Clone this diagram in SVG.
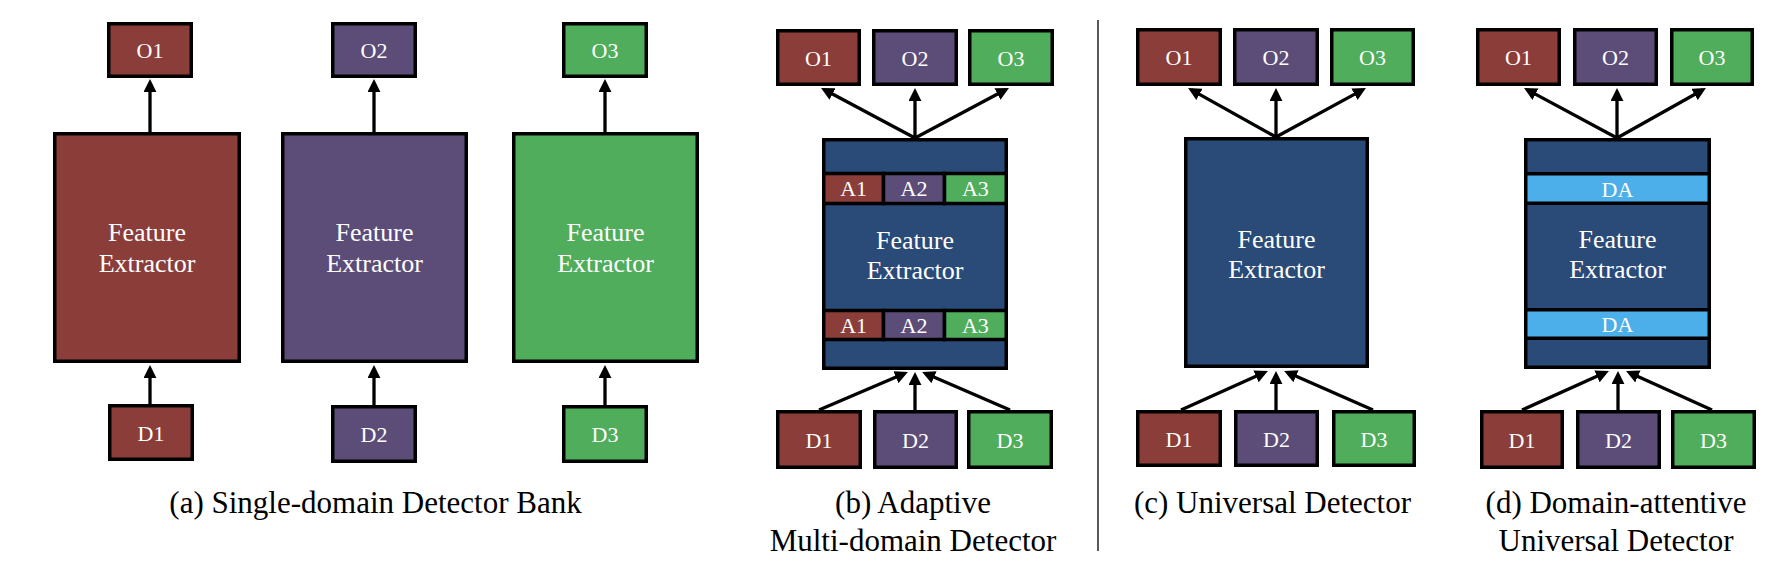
<svg xmlns="http://www.w3.org/2000/svg" width="1786" height="570" viewBox="0 0 1786 570">
<defs>
<marker id="ah" viewBox="0 0 10 10" refX="7" refY="5" markerWidth="13" markerHeight="13" markerUnits="userSpaceOnUse" orient="auto"><path d="M0,0 L10,5 L0,10 z" fill="#000"/></marker>
</defs>
<style>
.r{fill:#8B3D3A}.p{fill:#5C4D78}.g{fill:#50AD5B}.n{fill:#2A4A77}.l{fill:#4DAFEA}
.bx rect{stroke:#000;stroke-width:3.5}
text{font-family:'Liberation Serif','Times New Roman',Times,'DejaVu Serif',serif;text-anchor:middle}
.lbl{font-size:22px;fill:#fff}
.fe{font-size:26px;fill:#fff}
.cap{font-size:31px;fill:#000}
.c line{stroke:#000;stroke-width:3.3;fill:none;marker-end:url(#ah)}
</style>

<g id="connectors" class="c">
<line x1="150" y1="132" x2="150" y2="83"/>
<line x1="150" y1="404" x2="150" y2="369"/>
<line x1="374" y1="132" x2="374" y2="83"/>
<line x1="374" y1="405" x2="374" y2="369"/>
<line x1="605" y1="132" x2="605" y2="83"/>
<line x1="605" y1="405" x2="605" y2="369"/>

<line x1="915" y1="138" x2="824.5" y2="89.8"/>
<line x1="915" y1="138" x2="915" y2="92"/>
<line x1="915" y1="138" x2="1005.5" y2="89.8"/>
<line x1="819" y1="410" x2="904.3" y2="373.6"/>
<line x1="915" y1="410" x2="915" y2="376"/>
<line x1="1010" y1="410" x2="925.7" y2="373.6"/>

<line x1="1276" y1="137" x2="1191.5" y2="89.9"/>
<line x1="1276" y1="137" x2="1276" y2="92"/>
<line x1="1276" y1="137" x2="1362.5" y2="89.9"/>
<line x1="1181" y1="410" x2="1264.3" y2="372.6"/>
<line x1="1276" y1="410" x2="1276" y2="375"/>
<line x1="1373" y1="410" x2="1287.7" y2="372.6"/>

<line x1="1617" y1="138" x2="1527.5" y2="89.9"/>
<line x1="1617" y1="138" x2="1617" y2="92"/>
<line x1="1617" y1="138" x2="1702.5" y2="90"/>
<line x1="1522" y1="410" x2="1605.3" y2="372.6"/>
<line x1="1618" y1="410" x2="1618" y2="375"/>
<line x1="1712" y1="410" x2="1629.6" y2="372.7"/>
</g>

<g class="bx" font-family="'Liberation Serif', 'Times New Roman', serif">
<!-- Panel a -->
<g id="a-fe1"><rect class="r" x="54.75" y="133.75" width="184.5" height="227.5"/><text class="fe" x="147" y="241">Feature</text><text class="fe" x="147" y="272">Extractor</text></g>
<g id="a-fe2"><rect class="p" x="282.75" y="133.75" width="183.5" height="227.5"/><text class="fe" x="374.5" y="241">Feature</text><text class="fe" x="374.5" y="272">Extractor</text></g>
<g id="a-fe3"><rect class="g" x="513.75" y="133.75" width="183.5" height="227.5"/><text class="fe" x="605.5" y="241">Feature</text><text class="fe" x="605.5" y="272">Extractor</text></g>
<g id="a-o1"><rect class="r" x="108.75" y="23.75" width="82.5" height="52.5"/><text class="lbl" x="150" y="58">O1</text></g>
<g id="a-o2"><rect class="p" x="332.75" y="23.75" width="82.5" height="52.5"/><text class="lbl" x="374" y="58">O2</text></g>
<g id="a-o3"><rect class="g" x="563.75" y="23.75" width="82.5" height="52.5"/><text class="lbl" x="605" y="58">O3</text></g>
<g id="a-d1"><rect class="r" x="109.75" y="405.75" width="82.5" height="53.5"/><text class="lbl" x="151" y="440.5">D1</text></g>
<g id="a-d2"><rect class="p" x="332.75" y="406.75" width="82.5" height="54.5"/><text class="lbl" x="374" y="442">D2</text></g>
<g id="a-d3"><rect class="g" x="563.75" y="406.75" width="82.5" height="54.5"/><text class="lbl" x="605" y="442">D3</text></g>
<text class="cap" x="375.5" y="513">(a) Single-domain Detector Bank</text>

<!-- Panel b -->
<g id="b-fe">
<rect class="n" x="823.75" y="139.75" width="182.5" height="228.5"/>
<rect class="r" x="823.75" y="173.5" width="59.75" height="30"/>
<rect class="p" x="883.5" y="173.5" width="61" height="30"/>
<rect class="g" x="944.5" y="173.5" width="61.75" height="30"/>
<rect class="r" x="823.75" y="310.5" width="59.75" height="29"/>
<rect class="p" x="883.5" y="310.5" width="61" height="29"/>
<rect class="g" x="944.5" y="310.5" width="61.75" height="29"/>
<text class="lbl" x="853.6" y="196">A1</text><text class="lbl" x="914" y="196">A2</text><text class="lbl" x="975.4" y="196">A3</text>
<text class="lbl" x="853.6" y="332.5">A1</text><text class="lbl" x="914" y="332.5">A2</text><text class="lbl" x="975.4" y="332.5">A3</text>
<text class="fe" x="915" y="249">Feature</text><text class="fe" x="915" y="279">Extractor</text>
</g>
<g id="b-o1"><rect class="r" x="777.75" y="30.75" width="81.5" height="53.5"/><text class="lbl" x="818.5" y="65.5">O1</text></g>
<g id="b-o2"><rect class="p" x="873.75" y="30.75" width="82.5" height="53.5"/><text class="lbl" x="915" y="65.5">O2</text></g>
<g id="b-o3"><rect class="g" x="969.75" y="30.75" width="82.5" height="53.5"/><text class="lbl" x="1011" y="65.5">O3</text></g>
<g id="b-d1"><rect class="r" x="777.75" y="411.75" width="82.5" height="55.5"/><text class="lbl" x="819" y="447.5">D1</text></g>
<g id="b-d2"><rect class="p" x="874.75" y="411.75" width="81.5" height="55.5"/><text class="lbl" x="915.5" y="447.5">D2</text></g>
<g id="b-d3"><rect class="g" x="968.75" y="411.75" width="82.5" height="55.5"/><text class="lbl" x="1010" y="447.5">D3</text></g>
<text class="cap" x="913" y="513">(b) Adaptive</text>
<text class="cap" x="913" y="551">Multi-domain Detector</text>

<!-- Panel c -->
<g id="c-fe"><rect class="n" x="1185.75" y="138.75" width="181.5" height="227.5"/><text class="fe" x="1276.5" y="248">Feature</text><text class="fe" x="1276.5" y="278">Extractor</text></g>
<g id="c-o1"><rect class="r" x="1137.75" y="29.75" width="82.5" height="54.5"/><text class="lbl" x="1179" y="65">O1</text></g>
<g id="c-o2"><rect class="p" x="1234.75" y="29.75" width="82.5" height="54.5"/><text class="lbl" x="1276" y="65">O2</text></g>
<g id="c-o3"><rect class="g" x="1331.75" y="29.75" width="81.5" height="54.5"/><text class="lbl" x="1372.5" y="65">O3</text></g>
<g id="c-d1"><rect class="r" x="1137.75" y="411.75" width="82.5" height="53.5"/><text class="lbl" x="1179" y="446.5">D1</text></g>
<g id="c-d2"><rect class="p" x="1235.75" y="411.75" width="81.5" height="53.5"/><text class="lbl" x="1276.5" y="446.5">D2</text></g>
<g id="c-d3"><rect class="g" x="1333.75" y="411.75" width="80.5" height="53.5"/><text class="lbl" x="1374" y="446.5">D3</text></g>
<text class="cap" x="1272.5" y="513">(c) Universal Detector</text>

<!-- Panel d -->
<g id="d-fe">
<rect class="n" x="1525.75" y="139.75" width="183.5" height="227.5"/>
<rect class="l" x="1525.75" y="173.75" width="183.5" height="29.5"/>
<rect class="l" x="1525.75" y="309.75" width="183.5" height="28.5"/>
<text class="lbl" x="1617.5" y="197">DA</text>
<text class="lbl" x="1617.5" y="332">DA</text>
<text class="fe" x="1617.5" y="248">Feature</text><text class="fe" x="1617.5" y="278">Extractor</text>
</g>
<g id="d-o1"><rect class="r" x="1477.75" y="29.75" width="81.5" height="54.5"/><text class="lbl" x="1518.5" y="65">O1</text></g>
<g id="d-o2"><rect class="p" x="1574.75" y="29.75" width="81.5" height="54.5"/><text class="lbl" x="1615.5" y="65">O2</text></g>
<g id="d-o3"><rect class="g" x="1671.75" y="29.75" width="80.5" height="54.5"/><text class="lbl" x="1712" y="65">O3</text></g>
<g id="d-d1"><rect class="r" x="1481.75" y="411.75" width="80.5" height="55.5"/><text class="lbl" x="1522" y="447.5">D1</text></g>
<g id="d-d2"><rect class="p" x="1577.75" y="411.75" width="81.5" height="55.5"/><text class="lbl" x="1618.5" y="447.5">D2</text></g>
<g id="d-d3"><rect class="g" x="1672.75" y="411.75" width="81.5" height="55.5"/><text class="lbl" x="1713.5" y="447.5">D3</text></g>
<text class="cap" x="1616" y="513">(d) Domain-attentive</text>
<text class="cap" x="1616" y="551">Universal Detector</text>
</g>

<line x1="1098" y1="20" x2="1098" y2="551" stroke="#222" stroke-width="1.5"/>
</svg>
